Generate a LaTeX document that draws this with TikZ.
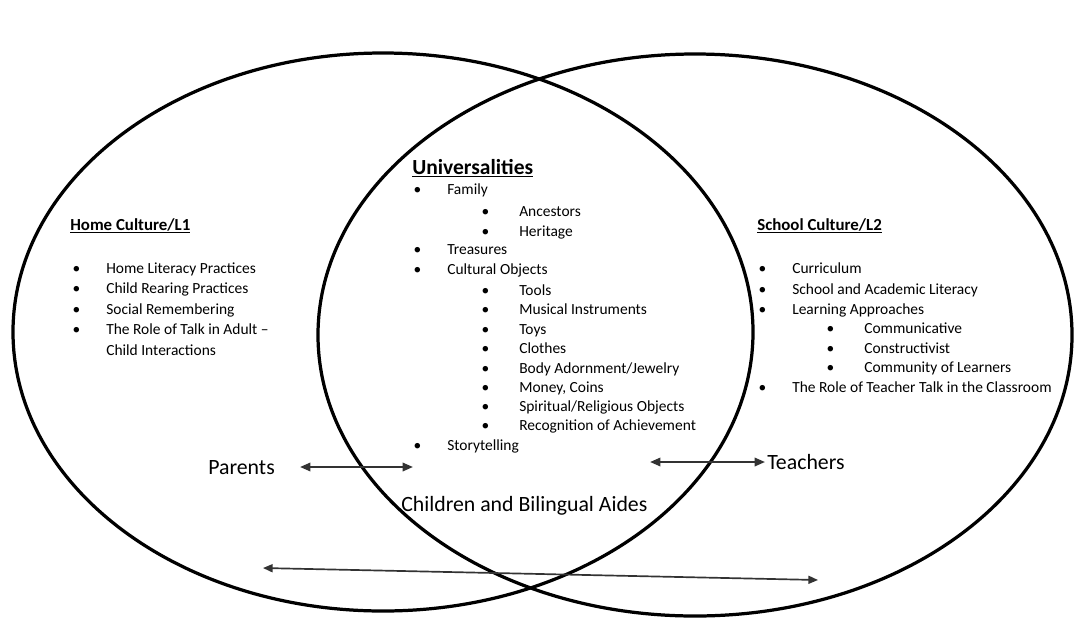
\documentclass[tikz,border=0pt]{standalone}
\usepackage{fontspec}
\setmainfont{Carlito}
\usetikzlibrary{arrows.meta, positioning}

\newcommand{\itm}{\llap{\textbullet\hspace{0.65cm}}}
\newcommand{\subitm}{\llap{\textbullet\hspace{0.75cm}}}

\begin{document}
\begin{tikzpicture}[
    x=0.025cm, y=-0.025cm,
    every node/.style={inner sep=0pt, anchor=base west},
    circlepath/.style={line width=2.3pt},
    heading/.style={font=\fontsize{12}{14}\selectfont\bfseries},
    bighead/.style={font=\fontsize{15.3}{18}\selectfont\bfseries},
    entry/.style={font=\fontsize{11}{13}\selectfont},
    role/.style={font=\fontsize{15.5}{18}\selectfont},
    link/.style={{Triangle[length=2.6mm, width=2.1mm]}-{Triangle[length=2.6mm, width=2.1mm]}, line width=1.5pt, black!80},
    longlink/.style={{Triangle[length=2.4mm, width=2mm]}-{Triangle[length=2.4mm, width=2mm]}, line width=1.2pt, black!80}
]
\useasboundingbox (0,0) rectangle (1075,619);

% Two overlapping cultures
\draw[circlepath] (383,332) ellipse [x radius=370, y radius=279];
\draw[circlepath] (695,335) ellipse [x radius=377, y radius=281];

% Home culture (left)
\node[heading] (home) at (70,230) {\underline{Home Culture/L1}};
\node[entry] (h1) at (106,273) {\itm Home Literacy Practices};
\node[entry] (h2) at (106,293) {\itm Child Rearing Practices};
\node[entry] (h3) at (106,314) {\itm Social Remembering};
\node[entry] (h4) at (106,334) {\itm The Role of Talk in Adult --};
\node[entry] (h5) at (106,355) {Child Interactions};

% Universalities (middle)
\node[bighead] (univ) at (412,174) {\underline{Universalities}};
\node[entry] (u1) at (447,194) {\itm Family};
\node[entry] (u2) at (519,216) {\subitm Ancestors};
\node[entry] (u3) at (519,236) {\subitm Heritage};
\node[entry] (u4) at (447,254) {\itm Treasures};
\node[entry] (u5) at (447,274) {\itm Cultural Objects};
\node[entry] (u6) at (519,295) {\subitm Tools};
\node[entry] (u7) at (519,314) {\subitm Musical Instruments};
\node[entry] (u8) at (519,334) {\subitm Toys};
\node[entry] (u9) at (519,353) {\subitm Clothes};
\node[entry] (u10) at (519,373) {\subitm Body Adornment/Jewelry};
\node[entry] (u11) at (519,392) {\subitm Money, Coins};
\node[entry] (u12) at (519,411) {\subitm Spiritual/Religious Objects};
\node[entry] (u13) at (519,430) {\subitm Recognition of Achievement};
\node[entry] (u14) at (447,450) {\itm Storytelling};

% School culture (right)
\node[heading] (school) at (757,230) {\underline{School Culture/L2}};
\node[entry] (s1) at (792,273) {\itm Curriculum};
\node[entry] (s2) at (792,294) {\itm School and Academic Literacy};
\node[entry] (s3) at (792,314) {\itm Learning Approaches};
\node[entry] (s4) at (864,333) {\subitm Communicative};
\node[entry] (s5) at (864,353) {\subitm Constructivist};
\node[entry] (s6) at (864,372) {\subitm Community of Learners};
\node[entry] (s7) at (792,392) {\itm The Role of Teacher Talk in the Classroom};

% Who moves between them
\node[role] (parents) at (208,474) {Parents};
\node[role] (teachers) at (767,469) {Teachers};
\node[role] (aides) at (401,511) {Children and Bilingual Aides};

\coordinate (parL) at (300,467);
\coordinate (parR) at (413,467);
\coordinate (teaL) at (650,462);
\coordinate (teaR) at (765,462);
\coordinate (allL) at (263,568);
\coordinate (allR) at (818,580);

% Arrows
\draw[link] (parL) -- (parR);
\draw[link] (teaL) -- (teaR);
\draw[longlink] (allL) -- (allR);

\end{tikzpicture}
\end{document}
